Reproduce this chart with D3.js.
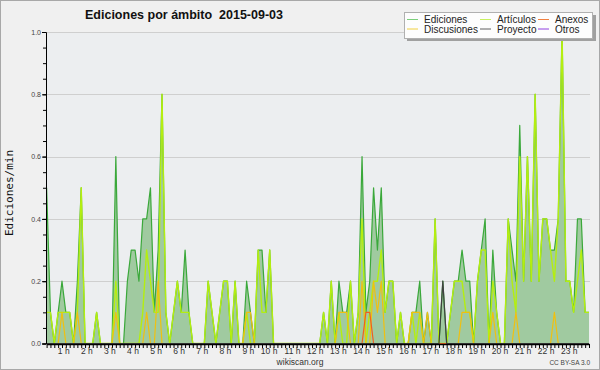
<!DOCTYPE html>
<html>
<head>
<meta charset="utf-8">
<script src="https://cdn.jsdelivr.net/npm/d3@7"></script>
<style>
  body { margin: 0; background: #f0f0f0; }
  svg { display: block; font-family: "Liberation Sans", Arial, sans-serif; }
</style>
</head>
<body>
<div id="chart"></div>
<script>
// 10-minute bins, edits per minute, 2015-09-03
const ediciones = [
  0.5,0.1,0,0.1,0.2,0.1,0.1,0,0.2,0.5,0,0,
  0,0.1,0,0,0,0,0.6,0,0,0.2,0.3,0.3,
  0.2,0.4,0.4,0.5,0.1,0.3,0.8,0.1,0,0.1,0.2,0.1,
  0.3,0.1,0,0,0,0,0.2,0.1,0,0.1,0.2,0.2,
  0,0.2,0,0,0.2,0.1,0,0.3,0.3,0.1,0.3,0,
  0,0,0,0,0,0,0,0,0,0,0,0,
  0.1,0,0.2,0,0.2,0.1,0.1,0.2,0,0.1,0.6,0.1,
  0.2,0.5,0.3,0.5,0.1,0.2,0.2,0,0.1,0,0,0.1,
  0.1,0.2,0,0.1,0,0.4,0,0.2,0,0.1,0.2,0.2,
  0.3,0.2,0.2,0,0.2,0.3,0.4,0,0.3,0.1,0,0,
  0.4,0.3,0.2,0.7,0.2,0.6,0.2,0.8,0.2,0.4,0.4,0.3,
  0.3,0.4,1.0,0.2,0.2,0.1,0.4,0.4,0.1,0.1
];
const articulos = [
  0.1,0.1,0,0.1,0.1,0.1,0.1,0,0.1,0.5,0,0,
  0,0.1,0,0,0,0,0.2,0,0,0,0,0,
  0,0.1,0.3,0.2,0.1,0.1,0.8,0.1,0,0.1,0.2,0.1,
  0.1,0.1,0,0,0,0,0.2,0.1,0,0.1,0.2,0.2,
  0,0.2,0,0,0.1,0,0,0.3,0.1,0.1,0.3,0,
  0,0,0,0,0,0,0,0,0,0,0,0,
  0.1,0,0.2,0,0.1,0,0,0.2,0,0.1,0.4,0,
  0.1,0.2,0.2,0.3,0.1,0.2,0.2,0,0.1,0,0,0.1,
  0,0.1,0,0,0,0.4,0,0,0,0.1,0.2,0.2,
  0.2,0.1,0.1,0,0.2,0.3,0.3,0,0.2,0.1,0,0,
  0.4,0.2,0.1,0.6,0.2,0.6,0.2,0.8,0.2,0.4,0.4,0.3,
  0.2,0.4,1.0,0.2,0.2,0.1,0.2,0.3,0.1,0.1
];
const discusiones = [
  0,0,0,0,0.1,0,0,0,0.1,0,0,0,
  0,0,0,0,0,0,0.1,0,0,0,0,0,
  0,0,0.1,0,0,0.2,0,0,0,0,0,0,
  0,0,0,0,0,0,0,0,0,0,0,0,
  0,0,0,0,0.1,0.1,0,0,0,0,0,0,
  0,0,0,0,0,0,0,0,0,0,0,0,
  0,0,0,0,0.1,0.1,0.1,0,0,0,0.2,0,
  0,0.2,0.1,0.2,0,0,0,0,0,0,0,0.1,
  0.1,0.1,0,0.1,0,0,0,0,0,0,0,0,
  0.1,0.1,0.1,0,0,0,0,0,0.1,0,0,0,
  0,0,0.1,0,0,0,0,0,0,0,0,0,
  0.1,0,0,0,0,0,0,0,0,0
];
const anexos = [
  0,0,0,0,0,0,0,0,0,0,0,0,
  0,0,0,0,0,0,0,0,0,0,0,0,
  0,0,0,0,0,0,0,0,0,0,0,0,
  0,0,0,0,0,0,0,0,0,0,0,0,
  0,0,0,0,0,0,0,0,0,0,0,0,
  0,0,0,0,0,0,0,0,0,0,0,0,
  0,0,0,0,0,0,0,0,0,0,0,0.1,
  0.1,0,0,0,0,0,0,0,0,0,0,0,
  0,0,0,0,0,0,0,0,0,0,0,0,
  0,0,0,0,0,0,0,0,0,0,0,0,
  0,0,0,0,0,0,0,0,0,0,0,0,
  0,0,0,0,0,0,0,0,0,0
];
const proyecto = [
  0,0,0,0,0,0,0,0,0,0,0,0,
  0,0,0,0,0,0,0,0,0,0,0,0,
  0,0,0,0,0,0,0,0,0,0,0,0,
  0,0,0,0,0,0,0,0,0,0,0,0,
  0,0,0,0,0,0,0,0,0,0,0,0,
  0,0,0,0,0,0,0,0,0,0,0,0,
  0,0,0,0,0,0,0,0,0,0,0,0,
  0,0,0,0,0,0,0,0,0,0,0,0,
  0,0,0,0,0,0,0,0.2,0,0,0,0,
  0,0,0,0,0,0,0,0,0,0,0,0,
  0,0,0,0,0,0,0,0,0,0,0,0,
  0,0,0,0,0,0,0,0,0,0
];
const otros = [
  0,0,0,0,0,0,0,0,0,0,0,0,
  0,0,0,0,0,0,0,0,0,0,0,0,
  0,0,0,0,0,0,0,0,0,0,0,0,
  0,0,0,0,0,0,0,0,0,0,0,0,
  0,0,0,0,0,0,0,0,0,0,0,0,
  0,0,0,0,0,0,0,0,0,0,0,0,
  0,0,0,0,0,0,0,0,0,0,0,0,
  0,0,0,0,0,0,0,0,0,0,0,0,
  0,0,0,0,0,0,0,0,0,0,0,0,
  0,0,0,0,0,0,0,0,0,0,0,0,
  0,0,0,0,0,0,0,0,0,0,0,0,
  0,0,0,0,0,0,0,0,0,0
];
const hourLabels = ["1 h","2 h","3 h","4 h","5 h","6 h","7 h","8 h","9 h","10 h","11 h","12 h",
  "13 h","14 h","15 h","16 h","17 h","18 h","19 h","20 h","21 h","22 h","23 h"];
const yMajor = [0, 0.2, 0.4, 0.6, 0.8, 1.0];
const legendItems = [
  {name: "Ediciones", color: "#7ccf7c"}, {name: "Artículos", color: "#c8f060"}, {name: "Anexos", color: "#f08040"},
  {name: "Discusiones", color: "#f0d040"}, {name: "Proyecto", color: "#606060"}, {name: "Otros", color: "#9040e0"}
];

const W = 600, H = 370;
const plot = {left: 46, right: 590, top: 32, bottom: 344};
const N = ediciones.length;

const svg = d3.select("#chart").append("svg")
    .attr("width", W).attr("height", H);

svg.append("rect").attr("x", 0.5).attr("y", 0.5).attr("width", W - 1).attr("height", H - 1)
    .attr("fill", "#f0f0f0").attr("stroke", "#a8a8a8");

svg.append("rect")
    .attr("x", plot.left).attr("y", plot.top)
    .attr("width", plot.right - plot.left).attr("height", plot.bottom - plot.top)
    .attr("fill", "#eceef0");

const x = d3.scaleLinear().domain([0, N - 1]).range([plot.left + 0.6, plot.right - 1]);
const y = d3.scaleLinear().domain([0, 1]).range([plot.bottom - 0.5, plot.top]);

// grid
svg.append("g").selectAll("line")
    .data(yMajor.slice(1))
    .join("line")
    .attr("x1", plot.left).attr("x2", plot.right)
    .attr("y1", d => Math.round(y(d)) + 0.5).attr("y2", d => Math.round(y(d)) + 0.5)
    .attr("stroke", "#cfcfcf");

// Ediciones area + lines
const idx = d3.range(N);
const area = d3.area().x(i => x(i)).y0(y(0)).y1(i => y(ediciones[i]));
svg.append("path").datum(idx).attr("d", area).attr("fill", "rgb(160,202,160)");

function drawLine(vals, color, w) {
  const line = d3.line().x(i => x(i)).y(i => y(vals[i]));
  svg.append("path").datum(idx).attr("d", line)
      .attr("fill", "none").attr("stroke", color).attr("stroke-width", w)
      .attr("stroke-linejoin", "round");
}
drawLine(otros, "#9040e0", 1.2);
drawLine(ediciones, "#3aa83a", 1.2);
drawLine(articulos, "#b4ee10", 1.4);
drawLine(discusiones, "#f0c010", 1.2);
drawLine(anexos, "#f06020", 1.2);
drawLine(proyecto, "#404040", 1.2);

// axes
const yAxis = svg.append("g")
    .attr("transform", `translate(${plot.left},0)`)
    .call(d3.axisLeft(y).tickValues(yMajor).tickFormat(d3.format(".1f")).tickSize(4).tickPadding(1));
yAxis.select(".domain").attr("stroke", "#000");
yAxis.selectAll("text").attr("font-size", 7).attr("fill", "#444").attr("font-family", "Liberation Sans");
svg.append("g")
    .attr("transform", `translate(${plot.left},0)`)
    .call(d3.axisLeft(y).tickValues(d3.range(0, 1.001, 0.05)).tickFormat("").tickSize(3))
    .select(".domain").remove();

const xAxis = svg.append("g")
    .attr("transform", `translate(0,${plot.bottom})`)
    .call(d3.axisBottom(x).tickValues(idx).tickFormat("").tickSize(4).tickSizeOuter(0));
xAxis.select(".domain").attr("stroke", "#000").attr("stroke-width", 1.5);

svg.append("g").selectAll("text")
    .data(hourLabels)
    .join("text")
    .attr("x", (d, i) => x((i + 1) * 6))
    .attr("y", plot.bottom + 9.5)
    .attr("text-anchor", "end")
    .attr("font-size", 8.5)
    .attr("fill", "#333")
    .text(d => d);

// y axis title
svg.append("text")
    .attr("transform", `translate(13,${(plot.top + plot.bottom) / 2 + 5}) rotate(-90)`)
    .attr("text-anchor", "middle")
    .attr("font-family", "DejaVu Sans Mono")
    .attr("font-size", 11)
    .attr("fill", "#111")
    .text("Ediciones/min");

// title
svg.append("text")
    .attr("x", 85).attr("y", 19)
    .attr("font-weight", "bold").attr("font-size", 12.5).attr("fill", "#111")
    .attr("xml:space", "preserve")
    .text("Ediciones por ámbito  2015-09-03");

// footer
svg.append("text").attr("x", 300).attr("y", 364.5).attr("text-anchor", "middle")
    .attr("font-size", 8.5).attr("fill", "#333").text("wikiscan.org");
svg.append("text").attr("x", 590).attr("y", 364.5).attr("text-anchor", "end")
    .attr("font-size", 6.5).attr("fill", "#444").text("CC BY-SA 3.0");

// legend
const lg = svg.append("g");
lg.append("rect").attr("x", 407).attr("y", 15).attr("width", 189).attr("height", 26).attr("fill", "#a0a0a0");
lg.append("rect").attr("x", 404.5).attr("y", 12.5).attr("width", 188).attr("height", 26)
    .attr("fill", "#fdfdfd").attr("stroke", "#b0b0b0");
const colX = [407, 480, 538];
legendItems.forEach((d, i) => {
  const cx = colX[i % 3], cy = i < 3 ? 19.5 : 29;
  lg.append("line").attr("x1", cx).attr("x2", cx + 11).attr("y1", cy).attr("y2", cy)
      .attr("stroke", d.color).attr("stroke-width", 1);
  lg.append("text").attr("x", cx + 17).attr("y", cy + 3.5)
      .attr("font-size", 10).attr("fill", "#222").text(d.name);
});
</script>
</body>
</html>
